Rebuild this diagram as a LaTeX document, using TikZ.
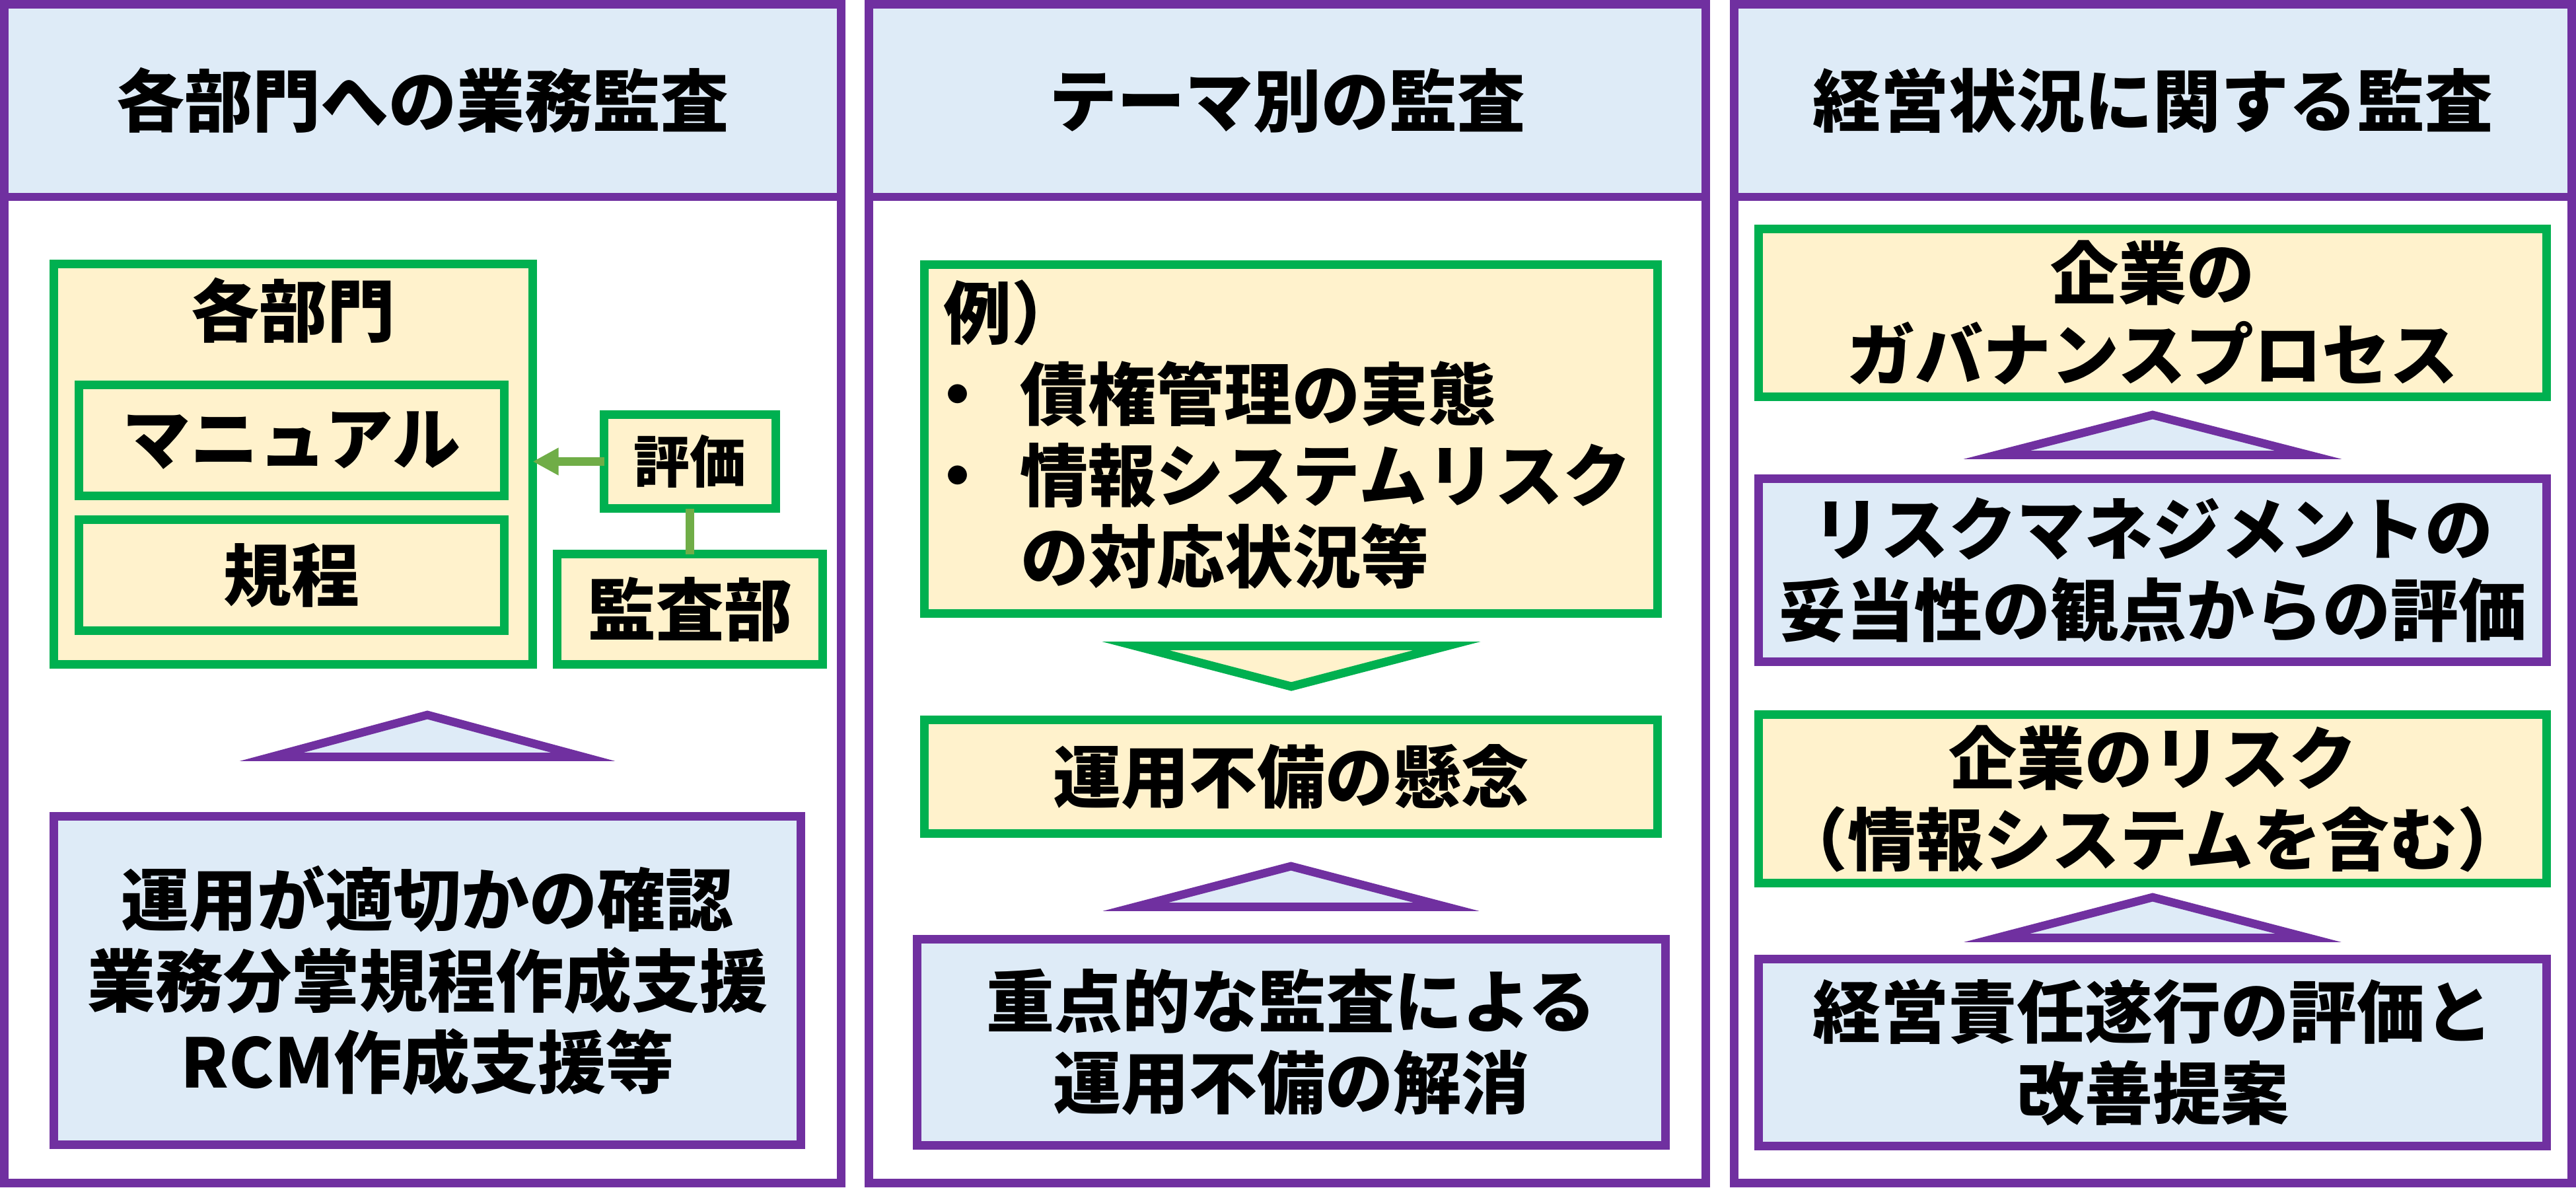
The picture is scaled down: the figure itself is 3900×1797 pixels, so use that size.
\documentclass[tikz,border=0pt]{standalone}
\usepackage{fontspec}
\newfontfamily\jp{Noto Sans CJK JP}
\usetikzlibrary{arrows.meta}
\definecolor{ppl}{HTML}{7030A0}
\definecolor{grn}{HTML}{00B050}
\definecolor{bfill}{HTML}{DEEBF7}
\definecolor{yfill}{HTML}{FFF2CC}
\definecolor{agrn}{HTML}{70AD47}
\begin{document}
\begin{tikzpicture}[x=1pt,y=-1pt,
  every node/.style={inner sep=0pt, outer sep=0pt},
  txt/.style={font=\jp\bfseries\fontsize{103pt}{123pt}\selectfont, align=center},
  pbox/.style={draw=ppl, fill=bfill, line width=12.7pt, txt},
  gbox/.style={draw=grn, fill=yfill, line width=13pt, txt},
  frame/.style={draw=ppl, line width=12.7pt},
  hdr/.style={pbox},
  ptri/.style={draw=ppl, fill=bfill, line width=12.7pt, line join=miter},
  gtri/.style={draw=grn, fill=yfill, line width=13pt, line join=miter},
  link/.style={draw=agrn, line width=13pt},
]
\useasboundingbox[fill=white] (0,0) rectangle (3900,1797);

% column frames and headers
\node[hdr, minimum width=1267.3pt, minimum height=291.6pt] (h1) at (640,152.2) {各部門への業務監査};
\node[frame, minimum width=1267.3pt, minimum height=1784.3pt] (c1) at (640,898.5) {};
\node[hdr, minimum width=1267.3pt, minimum height=291.6pt] (h2) at (1949,152.2) {テーマ別の監査};
\node[frame, minimum width=1267.3pt, minimum height=1784.3pt] (c2) at (1949,898.5) {};
\node[hdr, minimum width=1268.3pt, minimum height=291.6pt] (h3) at (3259.5,152.2) {経営状況に関する監査};
\node[frame, minimum width=1268.3pt, minimum height=1784.3pt] (c3) at (3259.5,898.5) {};

% left column
\node[gbox, minimum width=725pt, minimum height=606pt] (kb) at (444,702.5) {};
\node[txt] (kbl) at (444,470) {各部門};
\node[gbox, minimum width=644pt, minimum height=168pt] (man) at (441.5,666.5) {マニュアル};
\node[gbox, minimum width=644pt, minimum height=168pt] (kitei) at (441.5,870.5) {規程};
\node[gbox, minimum width=260pt, minimum height=142pt, font=\jp\bfseries\fontsize{85pt}{100pt}\selectfont] (hyoka) at (1044.5,698.5) {評価};
\node[gbox, minimum width=402pt, minimum height=167pt] (kansa) at (1044.5,922) {監査部};
\draw[link, -{Triangle[length=39pt,width=39pt]}] (hyoka.west) -- (hyoka.west -| kb.east);
\draw[link] (hyoka.south) -- (kansa.north);
\draw[ptri] (411,1145.5) -- (647,1082) -- (883,1145.5) -- cycle;
\node[pbox, minimum width=1131pt, minimum height=497pt] (lb) at (647,1484) {運用が適切かの確認\\業務分掌規程作成支援\\RCM作成支援等};

% middle column
\node[gbox, minimum width=1110pt, minimum height=528pt] (ex) at (1954.5,664.5) {};
\node[txt, align=left, anchor=north west] (exl) at (1398,424) {\hspace*{30pt}例）\\・\hspace*{44pt}債権管理の実態\\・\hspace*{44pt}情報システムリスク\\\hspace*{147pt}の対応状況等};
\draw[gtri] (1719,977.5) -- (2191,977.5) -- (1955,1039) -- cycle;
\node[gbox, minimum width=1110pt, minimum height=172pt] (unyo) at (1954.5,1175.5) {運用不備の懸念};
\draw[ptri] (1719,1372.5) -- (1954.5,1311) -- (2190,1372.5) -- cycle;
\node[pbox, minimum width=1133pt, minimum height=312pt] (mb) at (1955,1577.5) {重点的な監査による\\運用不備の解消};

% right column
\node[gbox, minimum width=1193pt, minimum height=254pt] (gov) at (3259,473.5) {企業の\\ガバナンスプロセス};
\draw[ptri] (3023,688.5) -- (3259,628) -- (3495,688.5) -- cycle;
\node[pbox, minimum width=1193pt, minimum height=277pt] (rm) at (3259,863) {リスクマネジメントの\\妥当性の観点からの評価};
\node[gbox, minimum width=1193pt, minimum height=255pt] (risk) at (3259,1209) {企業のリスク\\（情報システムを含む）};
\draw[ptri] (3023,1419.5) -- (3259,1358) -- (3495,1419.5) -- cycle;
\node[pbox, minimum width=1193pt, minimum height=283pt] (mg) at (3259,1593) {経営責任遂行の評価と\\改善提案};
\end{tikzpicture}
\end{document}
